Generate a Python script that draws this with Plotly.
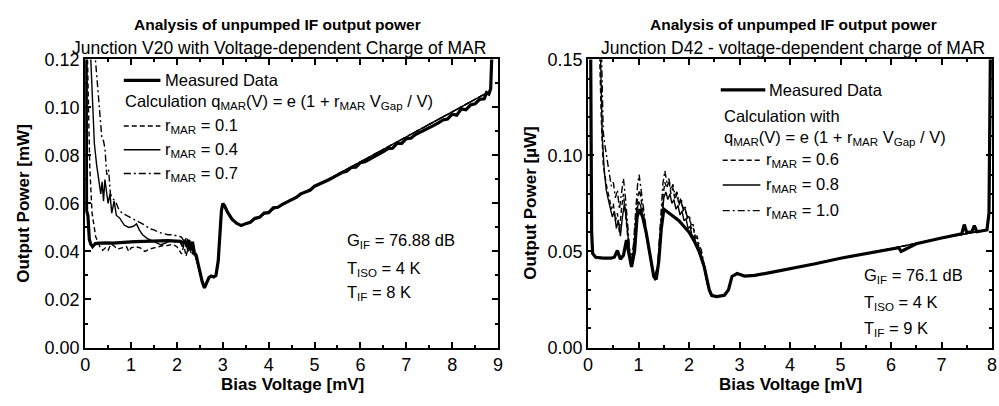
import plotly.graph_objects as go

W, H = 999, 406

# ---------------- Left panel: Junction V20 (output power in mW) ----------------
left_meas_v = [0.00, 0.02, 0.03, 0.06, 0.09, 0.12, 0.16, 0.22, 0.30, 0.40, 0.50, 0.60, 0.70, 0.80,
               0.90, 1.00, 1.10, 1.20, 1.30, 1.40, 1.50, 1.60, 1.70, 1.80, 1.90, 2.00, 2.08, 2.14,
               2.18, 2.22, 2.26, 2.30, 2.34, 2.38, 2.42, 2.46, 2.50, 2.55, 2.60, 2.65, 2.70, 2.75,
               2.80, 2.85, 2.90, 2.94, 2.97, 3.00, 3.04, 3.10, 3.20, 3.30, 3.40, 3.50, 3.60, 3.70,
               3.80, 3.90, 4.00, 4.10, 4.20, 4.30, 4.40, 4.50, 4.60, 4.70, 4.80, 4.90, 5.00, 5.10,
               5.20, 5.30, 5.40, 5.50, 5.60, 5.70, 5.80, 5.90, 6.00, 6.10, 6.20, 6.30, 6.40, 6.50,
               6.60, 6.70, 6.80, 6.90, 7.00, 7.10, 7.20, 7.30, 7.40, 7.50, 7.60, 7.70, 7.80, 7.90,
               8.00, 8.10, 8.20, 8.30, 8.40, 8.50, 8.60, 8.70, 8.75, 8.80, 8.84, 8.88]
left_meas_p = [0.130, 0.130, 0.057, 0.055, 0.045, 0.0432, 0.0420, 0.0433, 0.0435, 0.0437, 0.0436,
               0.0435, 0.0437, 0.0438, 0.0439, 0.0440, 0.0441, 0.0442, 0.0443, 0.0444, 0.0445,
               0.0446, 0.0446, 0.0445, 0.0444, 0.0443, 0.0442, 0.0435, 0.0445, 0.0420, 0.0448,
               0.0405, 0.0440, 0.0395, 0.0385, 0.0350, 0.0310, 0.0275, 0.0248, 0.0268, 0.0292,
               0.0298, 0.0294, 0.0300, 0.0360, 0.0480, 0.0570, 0.0600, 0.0590, 0.0565, 0.0535,
               0.0518, 0.0508, 0.0516, 0.0522, 0.0538, 0.0542, 0.0560, 0.0562, 0.0582, 0.0584,
               0.0596, 0.0606, 0.0618, 0.0625, 0.0640, 0.0648, 0.0655, 0.0672, 0.0680, 0.0688,
               0.0698, 0.0708, 0.0718, 0.0729, 0.0734, 0.0750, 0.0751, 0.0770, 0.0774, 0.0784,
               0.0796, 0.0804, 0.0816, 0.0828, 0.0830, 0.0850, 0.0850, 0.0870, 0.0872, 0.0887,
               0.0896, 0.0908, 0.0915, 0.0925, 0.0936, 0.0948, 0.0952, 0.0972, 0.0968, 0.0994,
               0.0990, 0.1010, 0.1015, 0.1034, 0.1036, 0.1062, 0.1056, 0.1078, 0.1300]

left_r01_v = [0.04, 0.10, 0.15, 0.19, 0.23, 0.27, 0.32, 0.38, 0.44, 0.50, 0.56, 0.62, 0.70, 0.80,
              0.90, 0.95, 1.00, 1.10, 1.20, 1.30, 1.40, 1.50, 1.60, 1.70, 1.80, 1.90, 2.00, 2.10,
              2.15, 2.20, 2.26, 2.32, 2.38, 2.42, 2.46, 2.50, 2.55, 2.60, 2.65, 2.70, 2.80, 2.85,
              2.90, 2.94, 2.97, 3.00, 3.10, 3.20, 3.30, 3.40, 3.50, 4.00, 4.50, 5.00, 5.50, 6.00,
              6.50, 7.00, 7.50, 8.00, 8.50, 8.80]
left_r01_p = [0.130, 0.075, 0.056, 0.050, 0.046, 0.0445, 0.0420, 0.0405, 0.0415, 0.0405, 0.0430,
              0.0425, 0.0410, 0.0415, 0.0420, 0.0400, 0.0415, 0.0420, 0.0415, 0.0400, 0.0410,
              0.0415, 0.0420, 0.0425, 0.0425, 0.0430, 0.0420, 0.0390, 0.0425, 0.0380, 0.0430,
              0.0385, 0.0405, 0.0370, 0.0340, 0.0310, 0.0275, 0.0250, 0.0270, 0.0290, 0.0295,
              0.0300, 0.0360, 0.0480, 0.0570, 0.0598, 0.0563, 0.0533, 0.0517, 0.0507, 0.0514,
              0.0567, 0.0617, 0.0669, 0.0721, 0.0774, 0.0826, 0.0879, 0.0931, 0.0984, 0.1035,
              0.1065]

left_r04_v = [0.10, 0.16, 0.20, 0.25, 0.30, 0.34, 0.37, 0.40, 0.43, 0.46, 0.50, 0.54, 0.58, 0.63,
              0.68, 0.75, 0.85, 0.95, 1.05, 1.12, 1.18, 1.25, 1.35, 1.45, 1.55, 1.65, 1.75, 1.85,
              1.95, 2.05, 2.12, 2.18, 2.24, 2.30, 2.36, 2.42, 2.46, 2.50, 2.55, 2.60, 2.65, 2.70,
              2.80, 2.85, 2.90, 2.94, 2.97, 3.00, 3.10, 3.20, 3.30, 3.40, 3.50, 4.00, 4.50, 5.00,
              5.50, 6.00, 6.50, 7.00, 7.50, 8.00, 8.50, 8.80]
left_r04_p = [0.130, 0.100, 0.085, 0.076, 0.070, 0.064, 0.069, 0.061, 0.070, 0.066, 0.060, 0.064,
              0.056, 0.061, 0.055, 0.054, 0.051, 0.050, 0.0505, 0.0515, 0.049, 0.047, 0.0455,
              0.0445, 0.0435, 0.0428, 0.0435, 0.0445, 0.0440, 0.0445, 0.0420, 0.0450, 0.0400,
              0.0440, 0.0390, 0.0375, 0.0340, 0.0305, 0.0275, 0.0250, 0.0270, 0.0290, 0.0295,
              0.0300, 0.0360, 0.0480, 0.0570, 0.0598, 0.0563, 0.0533, 0.0517, 0.0507, 0.0514,
              0.0567, 0.0617, 0.0669, 0.0721, 0.0774, 0.0826, 0.0879, 0.0931, 0.0984, 0.1035,
              0.1065]

left_r07_v = [0.18, 0.24, 0.28, 0.32, 0.36, 0.40, 0.43, 0.47, 0.51, 0.55, 0.60, 0.66, 0.72, 0.80,
              0.90, 1.00, 1.10, 1.20, 1.30, 1.40, 1.50, 1.60, 1.70, 1.80, 1.90, 2.00, 2.10, 2.16,
              2.22, 2.28, 2.34, 2.40, 2.46, 2.50, 2.55, 2.60, 2.65, 2.70, 2.80, 2.85, 2.90, 2.94,
              2.97, 3.00, 3.10, 3.20, 3.30, 3.40, 3.50, 4.00, 4.50, 5.00, 5.50, 6.00, 6.50, 7.00,
              7.50, 8.00, 8.50, 8.80]
left_r07_p = [0.130, 0.115, 0.105, 0.095, 0.088, 0.086, 0.083, 0.072, 0.074, 0.064, 0.062, 0.061,
              0.058, 0.056, 0.055, 0.054, 0.053, 0.052, 0.051, 0.0495, 0.049, 0.048, 0.0475,
              0.047, 0.047, 0.0465, 0.046, 0.044, 0.046, 0.041, 0.043, 0.038, 0.034, 0.031,
              0.0275, 0.025, 0.027, 0.029, 0.0295, 0.030, 0.036, 0.048, 0.057, 0.0598, 0.0563,
              0.0533, 0.0517, 0.0507, 0.0514, 0.0567, 0.0617, 0.0669, 0.0721, 0.0774, 0.0826,
              0.0879, 0.0931, 0.0984, 0.1035, 0.1065]

# ---------------- Right panel: Junction D42 (output power in uW) ----------------
right_meas_v = [0.00, 0.05, 0.07, 0.09, 0.15, 0.30, 0.45, 0.52, 0.58, 0.64, 0.70, 0.76, 0.80,
                0.86, 0.92, 0.97, 1.02, 1.08, 1.15, 1.22, 1.30, 1.35, 1.40, 1.45, 1.50, 1.60,
                1.70, 1.80, 1.90, 2.00, 2.10, 2.20, 2.30, 2.40, 2.45, 2.55, 2.70, 2.78, 2.85,
                2.95, 3.10, 3.30, 3.60, 4.00, 4.50, 5.00, 5.50, 6.00, 6.15, 6.20, 6.50, 7.00,
                7.40, 7.45, 7.50, 7.60, 7.65, 7.70, 7.90, 7.94, 7.97]
right_meas_p = [0.160, 0.160, 0.060, 0.049, 0.0470, 0.0465, 0.0465, 0.0470, 0.0505, 0.0460,
                0.0480, 0.0560, 0.0500, 0.0420, 0.0500, 0.0680, 0.0720, 0.0680, 0.0600, 0.0500,
                0.0370, 0.0355, 0.0450, 0.0620, 0.0720, 0.0700, 0.0680, 0.0660, 0.0630, 0.0600,
                0.0555, 0.0500, 0.0420, 0.0300, 0.0270, 0.0265, 0.0272, 0.0300, 0.0370, 0.0385,
                0.0372, 0.0376, 0.0390, 0.0410, 0.0436, 0.0465, 0.0490, 0.0515, 0.0520, 0.0500,
                0.0540, 0.0570, 0.0592, 0.0640, 0.0598, 0.0602, 0.0635, 0.0603, 0.0612, 0.0700,
                0.1600]

right_r06_v = [0.22, 0.26, 0.30, 0.34, 0.38, 0.42, 0.46, 0.50, 0.54, 0.58, 0.62, 0.66, 0.70, 0.74,
               0.78, 0.82, 0.86, 0.90, 0.94, 0.98, 1.02, 1.06, 1.12, 1.20, 1.28, 1.33, 1.38, 1.44,
               1.48, 1.52, 1.56, 1.60, 1.64, 1.68, 1.72, 1.76, 1.80, 1.84, 1.88, 1.92, 1.96, 2.00,
               2.04, 2.08, 2.12, 2.16, 2.20, 2.24, 2.28, 2.32, 2.36, 2.42, 2.50, 2.70, 2.78, 2.85,
               2.95, 3.10, 3.30, 3.60, 4.00, 5.00, 6.00, 7.00, 7.90]
right_r06_p = [0.160, 0.120, 0.095, 0.088, 0.082, 0.078, 0.072, 0.075, 0.066, 0.070, 0.060, 0.072,
               0.080, 0.070, 0.058, 0.048, 0.043, 0.050, 0.065, 0.078, 0.082, 0.075, 0.064, 0.052,
               0.040, 0.036, 0.042, 0.065, 0.078, 0.086, 0.083, 0.087, 0.080, 0.083, 0.077, 0.080,
               0.074, 0.077, 0.071, 0.073, 0.067, 0.069, 0.062, 0.063, 0.057, 0.057, 0.051, 0.049,
               0.044, 0.040, 0.034, 0.028, 0.0265, 0.0272, 0.030, 0.037, 0.0385, 0.0372, 0.0376,
               0.039, 0.041, 0.0465, 0.0515, 0.057, 0.0612]

right_r08_v = [0.24, 0.28, 0.32, 0.36, 0.40, 0.44, 0.48, 0.52, 0.56, 0.60, 0.64, 0.68, 0.72, 0.76,
               0.80, 0.84, 0.88, 0.92, 0.96, 1.00, 1.04, 1.10, 1.18, 1.26, 1.32, 1.38, 1.44, 1.50,
               1.54, 1.58, 1.62, 1.66, 1.70, 1.74, 1.78, 1.82, 1.86, 1.90, 1.94, 1.98, 2.02, 2.06,
               2.10, 2.14, 2.18, 2.22, 2.26, 2.30, 2.36, 2.42, 2.50, 2.70, 2.78, 2.85, 2.95, 3.10,
               3.30, 3.60, 4.00, 5.00, 6.00, 7.00, 7.90]
right_r08_p = [0.160, 0.110, 0.092, 0.082, 0.077, 0.072, 0.068, 0.071, 0.062, 0.066, 0.058, 0.068,
               0.075, 0.066, 0.054, 0.045, 0.046, 0.056, 0.070, 0.076, 0.074, 0.066, 0.054, 0.042,
               0.035, 0.040, 0.060, 0.078, 0.081, 0.077, 0.080, 0.075, 0.077, 0.072, 0.074, 0.069,
               0.071, 0.066, 0.067, 0.062, 0.063, 0.058, 0.058, 0.054, 0.053, 0.049, 0.047, 0.042,
               0.033, 0.028, 0.0265, 0.0272, 0.030, 0.037, 0.0385, 0.0372, 0.0376, 0.039, 0.041,
               0.0465, 0.0515, 0.057, 0.0612]

right_r10_v = [0.26, 0.30, 0.34, 0.38, 0.42, 0.46, 0.50, 0.54, 0.58, 0.62, 0.66, 0.70, 0.74, 0.78,
               0.82, 0.86, 0.90, 0.94, 0.98, 1.01, 1.05, 1.10, 1.18, 1.26, 1.32, 1.38, 1.44, 1.48,
               1.52, 1.56, 1.60, 1.64, 1.68, 1.72, 1.76, 1.80, 1.84, 1.88, 1.92, 1.96, 2.00, 2.04,
               2.08, 2.12, 2.16, 2.20, 2.24, 2.28, 2.32, 2.36, 2.42, 2.50, 2.70, 2.78, 2.85, 2.95,
               3.10, 3.30, 3.60, 4.00, 5.00, 6.00, 7.00, 7.90]
right_r10_p = [0.160, 0.112, 0.104, 0.098, 0.090, 0.084, 0.086, 0.078, 0.082, 0.072, 0.080, 0.088,
               0.078, 0.064, 0.052, 0.046, 0.054, 0.070, 0.085, 0.090, 0.082, 0.070, 0.056, 0.044,
               0.037, 0.043, 0.068, 0.085, 0.092, 0.086, 0.088, 0.082, 0.085, 0.079, 0.081, 0.075,
               0.078, 0.072, 0.074, 0.068, 0.069, 0.064, 0.064, 0.058, 0.058, 0.053, 0.051, 0.045,
               0.041, 0.035, 0.028, 0.0265, 0.0272, 0.030, 0.037, 0.0385, 0.0372, 0.0376, 0.039,
               0.041, 0.0465, 0.0515, 0.057, 0.0612]

left_ticks_y = [0.00, 0.02, 0.04, 0.06, 0.08, 0.10, 0.12]
right_ticks_y = [0.00, 0.05, 0.10, 0.15]

FONT = "Liberation Sans, Arial, sans-serif"
DASH = "5px,3px"
DASHDOT = "7px,3px,2px,3px"

fig = go.Figure()

def add(v, p, ax, width, dash=None):
    fig.add_trace(go.Scatter(x=v, y=p, mode="lines", xaxis=ax[0], yaxis=ax[1],
                             line=dict(color="black", width=width, dash=dash),
                             hoverinfo="skip"))

L = ("x", "y")
R = ("x2", "y2")
add(left_r01_v, left_r01_p, L, 1.4, DASH)
add(left_r04_v, left_r04_p, L, 1.4, None)
add(left_r07_v, left_r07_p, L, 1.4, DASHDOT)
add(left_meas_v, left_meas_p, L, 3.2)
add(right_r06_v, right_r06_p, R, 1.4, DASH)
add(right_r08_v, right_r08_p, R, 1.4, None)
add(right_r10_v, right_r10_p, R, 1.4, DASHDOT)
add(right_meas_v, right_meas_p, R, 3.2)

YT, YB = 52, 355
ydom = [1 - YB / H, 1 - YT / H]

def axstyle(**kw):
    d = dict(showline=True, linecolor="black", linewidth=2, mirror="ticks",
             ticks="inside", ticklen=6, tickwidth=1.5, tickcolor="black",
             showgrid=False, zeroline=False,
             tickfont=dict(family=FONT, size=18, color="black"))
    d.update(kw)
    return d

MINOR = dict(ticks="inside", ticklen=3, tickcolor="black", tickwidth=1.5)

fig.update_layout(
    width=W, height=H, margin=dict(l=0, r=0, t=0, b=0),
    paper_bgcolor="white", plot_bgcolor="white", showlegend=False,
    font=dict(family=FONT, color="black"),
    xaxis=axstyle(domain=[81 / W, 498 / W], range=[0, 9], anchor="y", dtick=1,
                  minor=dict(dtick=0.5, **MINOR)),
    yaxis=axstyle(domain=ydom, range=[0, 0.12], anchor="x", tickvals=left_ticks_y,
                  tickformat=".2f", minor=dict(dtick=0.01, **MINOR)),
    xaxis2=axstyle(domain=[589 / W, 997 / W], range=[0, 8], anchor="y2", dtick=1,
                   minor=dict(dtick=0.5, **MINOR)),
    yaxis2=axstyle(domain=ydom, range=[0, 0.15], anchor="x2", tickvals=right_ticks_y,
                   tickformat=".2f", minor=dict(dtick=0.01, **MINOR)),
)

ann = []
def text(x, y, s, size=16.5, bold=False, anchor="left", angle=0):
    t = f"<b>{s}</b>" if bold else s
    ann.append(dict(x=x / W, y=1 - y / H, xref="paper", yref="paper", text=t,
                    showarrow=False, xanchor=anchor, yanchor="middle", textangle=angle,
                    font=dict(family=FONT, size=size, color="black")))

shapes = []
def sample(x0, x1, y, width, dash=None):
    shapes.append(dict(type="line", xref="paper", yref="paper", x0=x0 / W, x1=x1 / W,
                       y0=1 - y / H, y1=1 - y / H,
                       line=dict(color="black", width=width, dash=dash)))

# titles
text(275, 15, "Analysis of unpumped IF output power", 15.5, True, "center")
text(277, 40, "Junction V20 with Voltage-dependent Charge of MAR", 17.5, False, "center")
text(796, 15, "Analysis of unpumped IF output power", 15.5, True, "center")
text(796, 40, "Junction D42 - voltage-dependent charge of MAR", 17.5, False, "center")
# axis titles
text(290, 394, "Bias Voltage [mV]", 17, True, "center")
text(793, 394, "Bias Voltage [mV]", 17, True, "center")
text(18, 203, "Output Power [mW]", 17, True, "center", -90)
text(530, 203, "Output Power [µW]", 17, True, "center", -90)

# left legend
sample(120, 157, 74, 3.2)
text(160, 74, "Measured Data")
text(119, 97, "Calculation q<sub>MAR</sub>(V) = e (1 + r<sub>MAR</sub> V<sub>Gap</sub> / V)")
sample(120, 157, 122, 1.4, DASH)
text(160, 122, "r<sub>MAR</sub> = 0.1")
sample(120, 157, 147, 1.4)
text(160, 147, "r<sub>MAR</sub> = 0.4")
sample(120, 157, 172, 1.4, DASHDOT)
text(160, 172, "r<sub>MAR</sub> = 0.7")
text(343, 243, "G<sub>IF</sub> = 76.88 dB")
text(343, 272, "T<sub>ISO</sub> = 4 K")
text(343, 298, "T<sub>IF</sub> = 8 K")

# right legend
sample(723, 768, 84, 3.2)
text(770, 84, "Measured Data")
text(724, 112, "Calculation with")
text(724, 135, "q<sub>MAR</sub>(V) = e (1 + r<sub>MAR</sub> V<sub>Gap</sub> / V)")
sample(725, 763, 158, 1.4, DASH)
text(767, 158, "r<sub>MAR</sub> = 0.6")
sample(725, 763, 184, 1.4)
text(767, 184, "r<sub>MAR</sub> = 0.8")
sample(725, 763, 211, 1.4, DASHDOT)
text(767, 211, "r<sub>MAR</sub> = 1.0")
text(866, 280, "G<sub>IF</sub> = 76.1 dB")
text(866, 308, "T<sub>ISO</sub> = 4 K")
text(866, 336, "T<sub>IF</sub> = 9 K")

fig.update_layout(annotations=ann, shapes=shapes)
fig.write_html("out.html")
